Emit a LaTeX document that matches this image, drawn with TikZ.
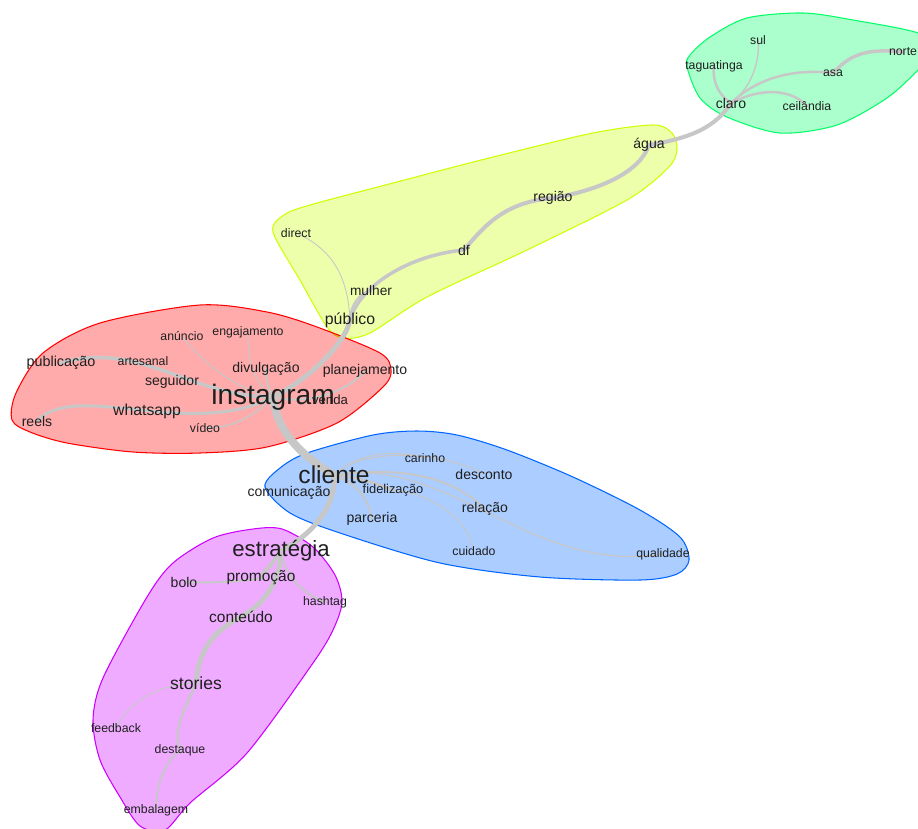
\documentclass[tikz,border=0pt]{standalone}
\usepackage{fontspec}
\setmainfont{Liberation Sans}
\pgfdeclarelayer{hulls}
\pgfdeclarelayer{links}
\pgfsetlayers{hulls,links,main}
\definecolor{hullred}{HTML}{FF0000}
\definecolor{hullyellow}{HTML}{CCFF00}
\definecolor{hullgreen}{HTML}{00FF66}
\definecolor{hullblue}{HTML}{0066FF}
\definecolor{hullpurple}{HTML}{CC00FF}
\colorlet{linkcol}{black!22}
\colorlet{wordcol}{black!88}
\tikzset{
  word/.style={text=wordcol,inner sep=0pt,font=\fontsize{#1}{#1}\selectfont},
  word/.default=7,
  link/.style={draw=linkcol,line width=#1,line cap=round},
  link/.default=0.6pt,
  hull/.style={draw=#1,fill=#1,fill opacity=0.33,line width=0.6pt}}

\begin{document}
\begin{tikzpicture}[x=0.02cm,y=-0.02cm]
  \useasboundingbox (0,0) rectangle (918,828); % pixel frame

  % CLUSTERS
  \begin{pgfonlayer}{hulls}
  \draw[hull=hullgreen] plot[smooth cycle] coordinates {(687,67) (690,55) (710,37) (747,18) (803,13)
    (853,20) (918,33) (935,50) (918,70) (887,98) (837,125) (780,133) (727,117) (700,98)};
  \draw[hull=hullyellow] plot[smooth cycle] coordinates {(273,232) (284,215) (310,205) (393,183) (493,157)
    (593,133) (653,125) (672,133) (677,150) (668,168) (627,200) (527,250) (427,297) (370,333)
    (343,338) (327,327) (300,280)};
  \draw[hull=hullred] plot[smooth cycle] coordinates {(12,420) (16,393) (43,353) (100,323) (200,305)
    (267,312) (317,327) (380,353) (391,370) (383,387) (337,423) (267,447) (200,453) (133,452)
    (67,443) (30,432)};
  \draw[hull=hullblue] plot[smooth cycle] coordinates {(265,487) (280,468) (307,453) (373,435) (417,431)
    (457,435) (507,450) (573,477) (640,510) (680,537) (689,560) (677,574) (640,580) (540,577)
    (440,563) (340,533) (290,513)};
  \draw[hull=hullpurple] plot[smooth cycle] coordinates {(253,529) (282,529) (313,547) (335,575)
    (342,602) (333,630) (313,663) (247,753) (190,803) (165,830) (140,826) (120,797) (100,760)
    (93,720) (103,678) (147,597) (173,563) (213,538)};
  \end{pgfonlayer}

  % WORDS
  \node[word] (sul) at (758,40) {sul};
  \node[word] (taguatinga) at (714,66) {taguatinga};
  \node[word=8] (claro) at (731,103) {claro};
  \node[word] (asa) at (833,73) {asa};
  \node[word] (norte) at (903,52) {norte};
  \node[word] (ceilandia) at (807,106) {ceilândia};
  \node[word=8] (agua) at (649,145) {água};
  \node[word=8] (regiao) at (553,198) {região};
  \node[word=8] (df) at (464,250) {df};
  \node[word] (direct) at (296,233) {direct};
  \node[word=7.8] (mulher) at (371,291) {mulher};
  \node[word=9] (publico) at (350,320) {público};
  \node[word] (anuncio) at (182,336) {anúncio};
  \node[word] (engajamento) at (248,332) {engajamento};
  \node[word=8.2] (publicacao) at (61,363) {publicação};
  \node[word] (artesanal) at (143,361) {artesanal};
  \node[word=8] (seguidor) at (172,382) {seguidor};
  \node[word=8] (divulgacao) at (266,369) {divulgação};
  \node[word=8] (planejamento) at (365,371) {planejamento};
  \node[word=7.5] (venda) at (330,400) {venda};
  \node[word=16] (instagram) at (273,397) {instagram};
  \node[word=9] (whatsapp) at (147,411) {whatsapp};
  \node[word=8] (reels) at (37,421) {reels};
  \node[word] (video) at (205,428) {vídeo};
  \node[word] (carinho) at (425,458) {carinho};
  \node[word=14] (cliente) at (334,475) {cliente};
  \node[word=8] (desconto) at (484,474) {desconto};
  \node[word=8] (comunicacao) at (289,493) {comunicação};
  \node[word=7.3] (fidelizacao) at (393,490) {fidelização};
  \node[word=8] (parceria) at (372,519) {parceria};
  \node[word=8] (relacao) at (485,509) {relação};
  \node[word] (cuidado) at (474,551) {cuidado};
  \node[word] (qualidade) at (663,554) {qualidade};
  \node[word=12.6] (estrategia) at (281,551) {estratégia};
  \node[word=8] (bolo) at (184,582) {bolo};
  \node[word=8.8] (promocao) at (261,578) {promoção};
  \node[word] (hashtag) at (325,602) {hashtag};
  \node[word=8.8] (conteudo) at (241,617) {conteúdo};
  \node[word=10] (stories) at (196,683) {stories};
  \node[word] (feedback) at (116,728) {feedback};
  \node[word] (destaque) at (180,750) {destaque};
  \node[word] (embalagem) at (156,810) {embalagem};

  % LINKS
  \begin{pgfonlayer}{links}
  \draw[link=2.3pt] (claro.center) .. controls (715,128) and (690,138) .. (agua.center);
  \draw[link=1.4pt] (claro.center) .. controls (718,95) and (712,80) .. (taguatinga.center);
  \draw[link=0.8pt] (claro.center) .. controls (755,85) and (760,55) .. (sul.center);
  \draw[link=1.4pt] (claro.center) .. controls (755,80) and (790,68) .. (asa.center);
  \draw[link=2pt] (asa.center) .. controls (850,55) and (865,48) .. (norte.center);
  \draw[link=1.4pt] (claro.center) .. controls (760,88) and (790,88) .. (ceilandia.center);
  \draw[link=2.3pt] (agua.center) .. controls (640,172) and (600,190) .. (regiao.center);
  \draw[link=2.3pt] (regiao.center) .. controls (505,202) and (485,225) .. (df.center);
  \draw[link=2pt] (df.center) .. controls (410,255) and (360,285) .. (publico.center);
  \draw[link=1.1pt] (publico.center) .. controls (350,305) and (360,292) .. (mulher.center);
  \draw[link=0.5pt] (direct.center) .. controls (335,250) and (348,280) .. (publico.center);
  \draw[link=2.8pt] (publico.center) .. controls (345,345) and (305,382) .. (instagram.center);
  \draw[link=4.5pt] (instagram.center) .. controls (276,430) and (300,455) .. (cliente.center);
  \draw[link=2.8pt] (cliente.center) .. controls (336,500) and (320,530) .. (estrategia.center);
  \draw[link=2pt] (instagram.center) .. controls (190,397) and (140,340) .. (publicacao.center);
  \draw[link=1.7pt] (reels.center) .. controls (75,380) and (190,440) .. (instagram.center);
  \draw[link=0.8pt] (video.center) .. controls (235,428) and (255,415) .. (instagram.center);
  \draw[link=0.6pt] (anuncio.center) .. controls (200,360) and (235,390) .. (instagram.center);
  \draw[link=0.6pt] (engajamento.center) .. controls (247,360) and (255,385) .. (instagram.center);
  \draw[link=1.1pt] (divulgacao.center) .. controls (265,380) and (270,390) .. (instagram.center);
  \draw[link=1.1pt] (instagram.center) .. controls (300,405) and (345,395) .. (planejamento.center);
  \draw[link=0.6pt] (cliente.center) .. controls (355,455) and (390,448) .. (carinho.center);
  \draw[link=0.6pt] (cliente.center) .. controls (360,448) and (440,450) .. (desconto.center);
  \draw[link=0.7pt] (cliente.center) .. controls (450,455) and (530,575) .. (qualidade.center);
  \draw[link=1.1pt] (cliente.center) .. controls (410,465) and (455,480) .. (relacao.center);
  \draw[link=1.4pt] (cliente.center) .. controls (360,477) and (380,485) .. (fidelizacao.center);
  \draw[link=0.6pt] (fidelizacao.center) .. controls (440,495) and (470,525) .. (cuidado.center);
  \draw[link=1.1pt] (cliente.center) .. controls (360,485) and (368,500) .. (parceria.center);
  \draw[link=2.3pt] (estrategia.center) .. controls (276,560) and (265,570) .. (promocao.center);
  \draw[link=1.1pt] (bolo.center) .. controls (215,583) and (240,582) .. (promocao.center);
  \draw[link=1.1pt] (estrategia.center) .. controls (285,575) and (300,592) .. (hashtag.center);
  \draw[link=2.8pt] (estrategia.center) .. controls (280,585) and (262,605) .. (conteudo.center);
  \draw[link=2.8pt] (conteudo.center) .. controls (210,632) and (198,655) .. (stories.center);
  \draw[link=0.6pt] (stories.center) .. controls (160,684) and (130,700) .. (feedback.center);
  \draw[link=1.4pt] (stories.center) .. controls (188,705) and (172,725) .. (destaque.center);
  \draw[link=1.1pt] (destaque.center) .. controls (163,765) and (156,785) .. (embalagem.center);
  \end{pgfonlayer}

\end{tikzpicture}
\end{document}
